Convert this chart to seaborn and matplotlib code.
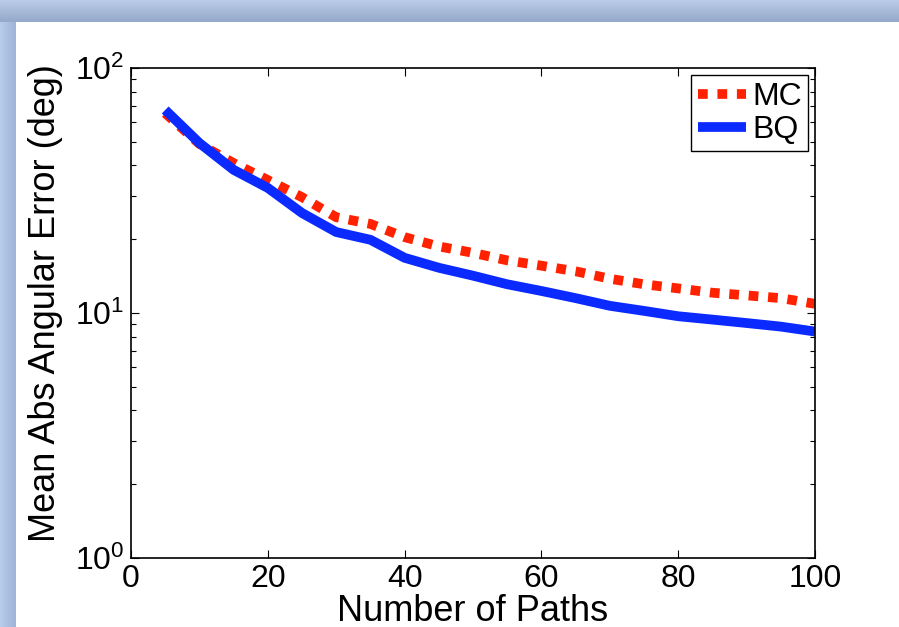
import matplotlib
matplotlib.use('Agg')
import matplotlib.pyplot as plt
import seaborn as sns
import numpy as np
import pandas as pd
from matplotlib.lines import Line2D

# data
paths = [5, 10, 15, 20, 25, 30, 35, 40, 45, 50, 55, 60, 65, 70, 75, 80, 85, 90, 95, 100]
mc_err = [65.4, 49.0, 40.9, 34.9, 29.7, 24.6, 23.1, 20.4, 18.7, 17.6,
          16.4, 15.6, 14.8, 13.8, 13.1, 12.6, 12.1, 11.8, 11.5, 10.9]
bq_err = [67.4, 49.4, 38.4, 32.4, 25.6, 21.4, 19.9, 16.8, 15.3, 14.2,
          13.1, 12.3, 11.5, 10.7, 10.2, 9.7, 9.4, 9.1, 8.8, 8.4]
methods = ['MC', 'BQ']
x_ticks = [0, 20, 40, 60, 80, 100]

df = pd.DataFrame({
    'paths': paths * 2,
    'err': mc_err + bq_err,
    'method': ['MC'] * len(paths) + ['BQ'] * len(paths),
})

sns.set_style('ticks')
plt.rcParams['font.family'] = ['Liberation Sans', 'DejaVu Sans']
plt.rcParams['mathtext.fontset'] = 'custom'
plt.rcParams['mathtext.rm'] = 'Liberation Sans'
plt.rcParams['xtick.direction'] = 'in'
plt.rcParams['ytick.direction'] = 'in'
plt.rcParams['text.color'] = 'black'
plt.rcParams['axes.labelcolor'] = 'black'
plt.rcParams['xtick.labelcolor'] = 'black'
plt.rcParams['ytick.labelcolor'] = 'black'

fig = plt.figure(figsize=(8.99, 6.27), dpi=100)
fig.patch.set_facecolor('white')

# slide-like frame: gradient bands on top and left
W, H = 899, 627
top_h, left_w = 22, 16
band_top = fig.add_axes([0, 1 - top_h / H, 1, top_h / H])
g = np.linspace(0, 1, 50)[:, None, None]
c0 = np.array([0.73, 0.80, 0.91])
c1 = np.array([0.58, 0.66, 0.79])
band_top.imshow(c0 + (c1 - c0) * g * np.ones((1, 10, 3)), aspect='auto')
band_top.axis('off')
band_left = fig.add_axes([0, 0, left_w / W, 1 - top_h / H])
g2 = np.linspace(0, 1, 20)[None, :, None]
l0 = np.array([0.72, 0.80, 0.92])
l1 = np.array([0.62, 0.71, 0.85])
band_left.imshow(l0 + (l1 - l0) * g2 * np.ones((10, 1, 3)), aspect='auto')
band_left.axis('off')

ax = fig.add_axes([131 / W, 1 - 558 / H, (815 - 131) / W, (558 - 68) / H])

palette = {'MC': '#ff2200', 'BQ': '#0a2aff'}
sns.lineplot(data=df, x='paths', y='err', hue='method', hue_order=methods,
             palette=palette, ax=ax, linewidth=7, legend=False)
ax.lines[0].set_linestyle((0, (1, 1)))
ax.lines[0].set_dash_capstyle('butt')
ax.lines[1].set_solid_capstyle('butt')

ax.set_yscale('log')
ax.set_xlim(0, 100)
ax.set_ylim(1, 100)
ax.set_xticks(x_ticks)
ax.tick_params(axis='both', which='both', top=True, right=True, labelsize=23, color='black')
ax.tick_params(which='major', length=6, width=0.8)
ax.tick_params(which='minor', length=3.5, width=0.8)
ax.tick_params(axis='x', pad=4)
ax.tick_params(axis='y', pad=5)
for s in ax.spines.values():
    s.set_visible(True)
    s.set_linewidth(1.2)
    s.set_color('black')

ax.set_xlabel('Number of Paths', fontsize=26, labelpad=0)
ax.set_ylabel('Mean Abs Angular Error (deg)', fontsize=26)
ax.yaxis.set_label_coords(-0.10, 0.52)

handles = [Line2D([], [], color=palette['MC'], lw=7, linestyle=(0, (1, 1)), dash_capstyle='butt'),
           Line2D([], [], color=palette['BQ'], lw=7, solid_capstyle='butt')]
leg = ax.legend(handles, methods, loc='upper right', fontsize=23, frameon=True,
                fancybox=False, edgecolor='black', framealpha=1, handlelength=1.5,
                handletextpad=0.2, borderpad=0.2, labelspacing=0.1,
                borderaxespad=0, bbox_to_anchor=(0.99, 0.985))
leg.get_frame().set_linewidth(1.0)

fig.savefig('out.png', dpi=100)
